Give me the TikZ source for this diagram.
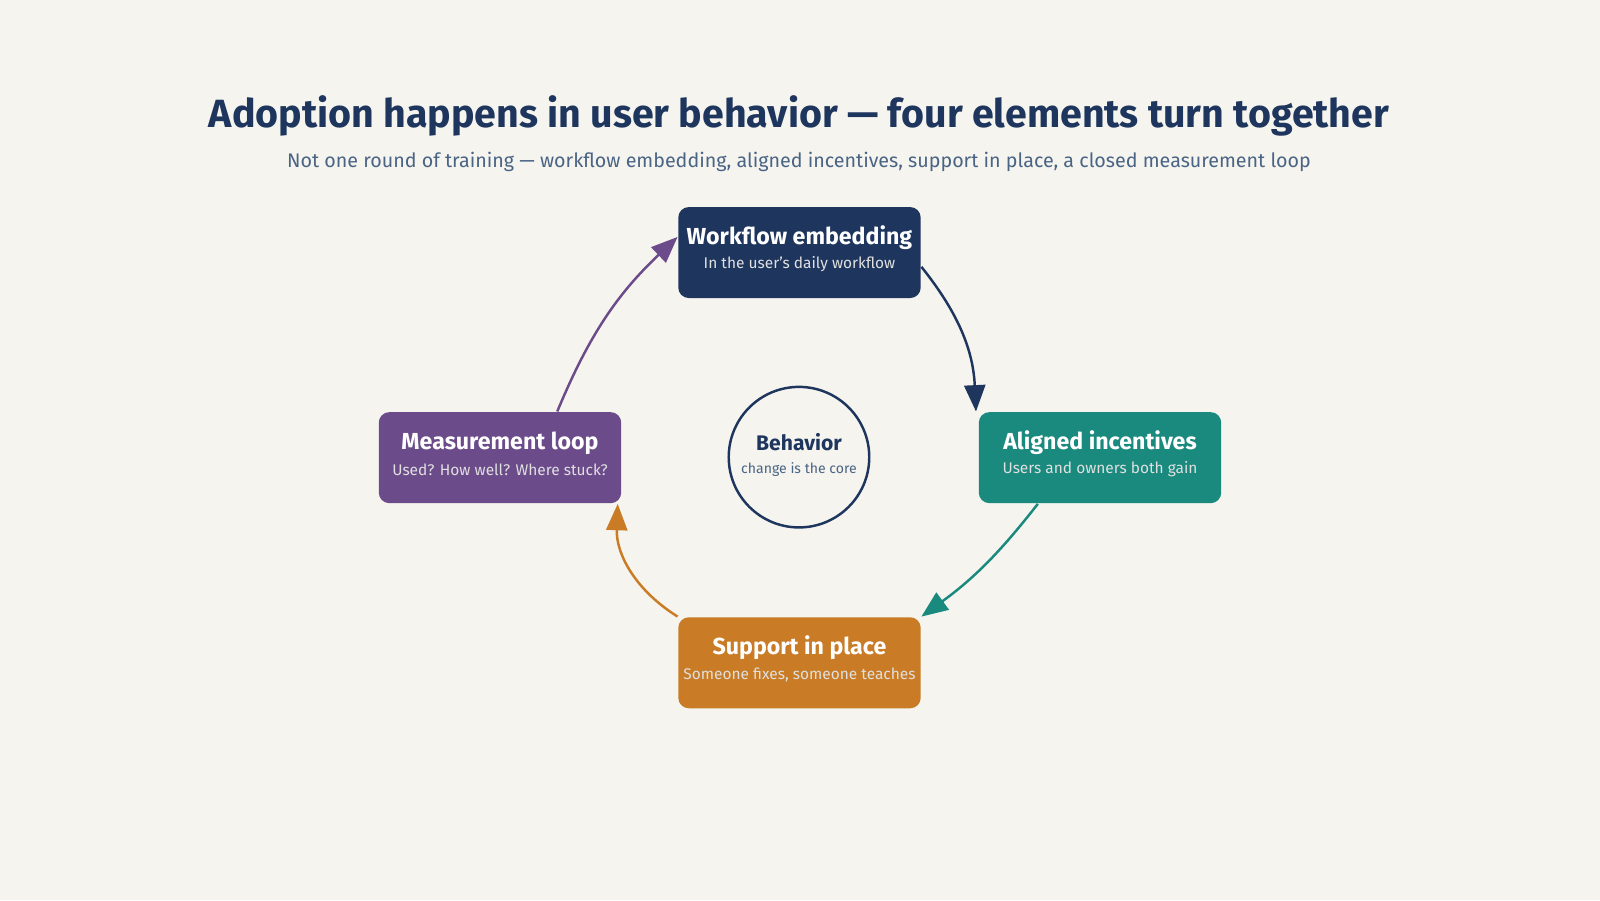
\documentclass[tikz,border=0pt]{standalone}
\usepackage{fontspec}
\setmainfont{Fira Sans}
\usetikzlibrary{arrows.meta}
\definecolor{bg}{HTML}{F5F4EE}
\definecolor{navy}{HTML}{1E365E}
\definecolor{teal}{HTML}{1A8A7E}
\definecolor{orng}{HTML}{C97C25}
\definecolor{purp}{HTML}{6B4B8A}
\definecolor{subc}{HTML}{4A6485}
\begin{document}
\begin{tikzpicture}[x=0.010204cm,y=-0.010204cm,
  box/.style={rounded corners=3pt,minimum width=69pt,minimum height=25.9pt,inner sep=0pt,align=center,text=white},
  ttl/.style={font=\fontsize{6.6}{7}\selectfont\bfseries},
  sub/.style={font=\fontsize{4.4}{5}\selectfont,text=white!88!black},
  arr/.style={line width=0.7pt,-{Triangle[length=7.5pt,width=6pt]}}]
\fill[bg] (0,0) rectangle (1568,882);
\useasboundingbox (0,0) rectangle (1568,882);
\node[text=navy,font=\fontsize{11.2}{13}\selectfont\bfseries] (title) at (783,114) {Adoption happens in user behavior — four elements turn together};
\node[text=subc,font=\fontsize{5.6}{7}\selectfont] (subtitle) at (783,159) {Not one round of training — workflow embedding, aligned incentives, support in place, a closed measurement loop};
\node[box,fill=navy] (w) at (783.5,247.5) {};
\node[ttl,text=white] at (783.5,233) {Workflow embedding};
\node[sub] at (783.5,259) {In the user's daily workflow};
\node[box,fill=teal] (a) at (1078,448.5) {};
\node[ttl,text=white] at (1078,434) {Aligned incentives};
\node[sub] at (1078,460) {Users and owners both gain};
\node[box,fill=orng] (s) at (783.5,649.5) {};
\node[ttl,text=white] at (783.5,635) {Support in place};
\node[sub] at (783.5,661) {Someone fixes, someone teaches};
\node[box,fill=purp] (m) at (490,448.5) {};
\node[ttl,text=white] at (490,434) {Measurement loop};
\node[sub] at (490,460) {Used? How well? Where stuck?};
\node[circle,draw=navy,line width=0.7pt,minimum size=40pt,inner sep=0pt] (c) at (783,448) {};
\node[text=navy,font=\fontsize{6}{7}\selectfont\bfseries] at (783,433) {Behavior};
\node[text=subc,font=\fontsize{4}{5}\selectfont] at (783,460) {change is the core};
\draw[arr,navy] (w.east) ++(0,14) coordinate (w1) to[bend left=18] ([xshift=-0.6pt]a.north west);
\draw[arr,teal] ([xshift=17pt]a.south west) to[bend left=8] (s.north east);
\draw[arr,orng] (s.north west) to[bend left=30] ([xshift=-1.2pt]m.south east);
\draw[arr,purp] ([xshift=51pt]m.north west) to[bend left=12] ([yshift=-8.7pt]w.north west);
\end{tikzpicture}
\end{document}
